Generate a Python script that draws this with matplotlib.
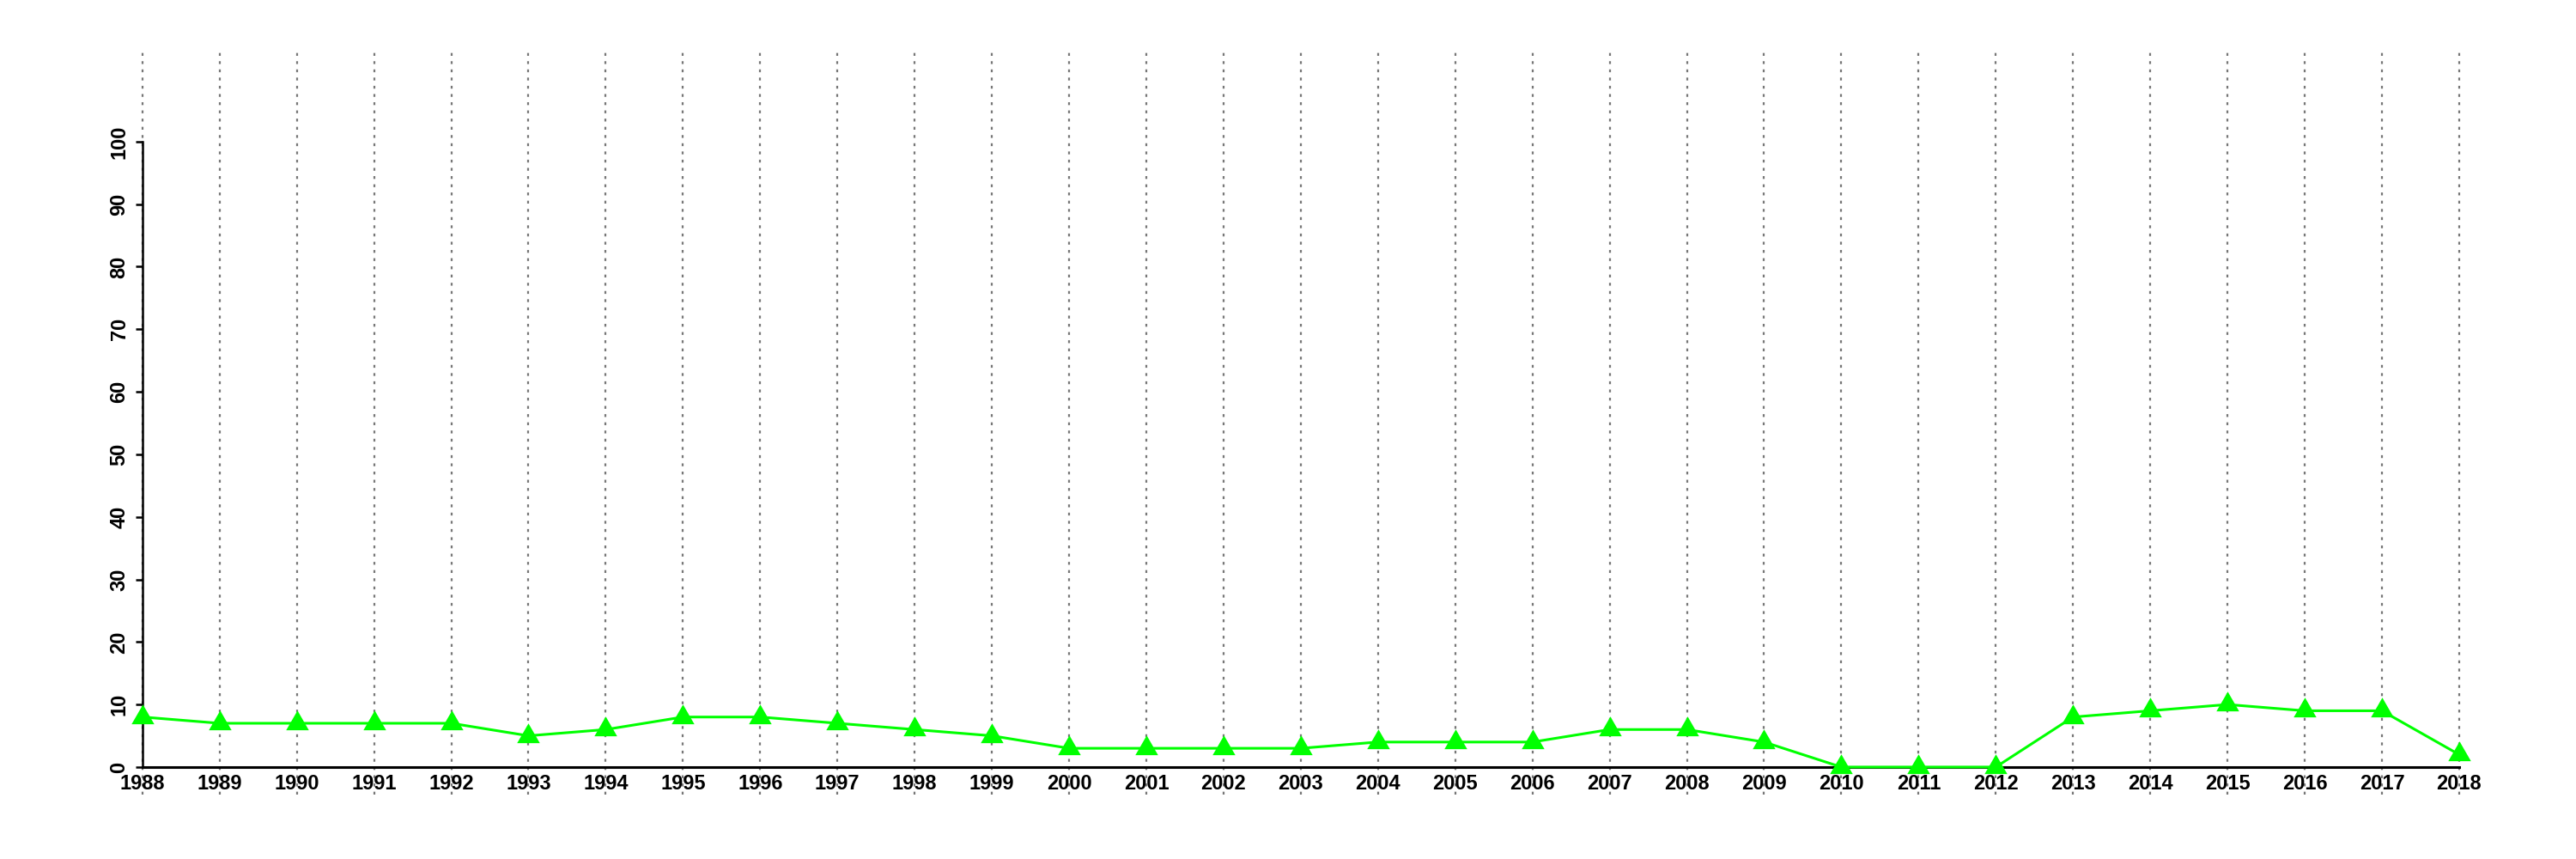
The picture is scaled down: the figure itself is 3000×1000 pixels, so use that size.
import numpy as np
import matplotlib
matplotlib.use('Agg')
import matplotlib.pyplot as plt

# values
years = list(range(1988, 2019))
values = [8, 7, 7, 7, 7, 5, 6, 8, 8, 7, 6, 5, 3, 3, 3, 3, 4, 4, 4, 6, 6, 4, 0, 0, 0, 8, 9, 10, 9, 9, 2]
yticks = list(range(0, 101, 10))

plt.rcParams['font.family'] = ['Liberation Sans', 'DejaVu Sans']
plt.rcParams['font.weight'] = 'bold'

fig = plt.figure(figsize=(30, 10), dpi=100)
ax = fig.add_axes([0.0193, 0.075, 0.9713, 0.865])

# R-like range: 4% extension
xr = years[-1] - years[0]
ax.set_xlim(years[0] - 0.04 * xr, years[-1] + 0.04 * xr)
ax.set_ylim(0 - 0.04 * 110, 110 + 0.04 * 110)

# vertical dotted grid at each year
for yr in years:
	ax.axvline(yr, color='#777777', lw=1.6, linestyle=(0, (1.5, 2.8)), zorder=1)

ax.plot(years, values, color='#00ff00', lw=2.2, marker=(3, 0, 0), markersize=22,
	markerfacecolor='#00ff00', markeredgecolor='#00ff00', markeredgewidth=0,
	zorder=3, clip_on=False)

for s in ['top', 'right']:
	ax.spines[s].set_visible(False)
ax.spines['bottom'].set_position(('data', 0))
ax.spines['bottom'].set_bounds(years[0], years[-1])
ax.spines['bottom'].set_linewidth(2.2)
ax.spines['left'].set_position(('data', years[0]))
ax.spines['left'].set_bounds(0, 100)
ax.spines['left'].set_linewidth(1.8)

ax.set_xticks(years)
ax.set_xticklabels([str(y) for y in years], fontsize=17, fontweight='bold')
ax.set_yticks(yticks)
ax.set_yticklabels([str(v) for v in yticks], fontsize=17, fontweight='bold', rotation=90, va='center')
ax.tick_params(axis='x', length=0, pad=6)
ax.tick_params(axis='y', length=6, width=1.8, pad=5)

fig.savefig('out.png', dpi=100)
